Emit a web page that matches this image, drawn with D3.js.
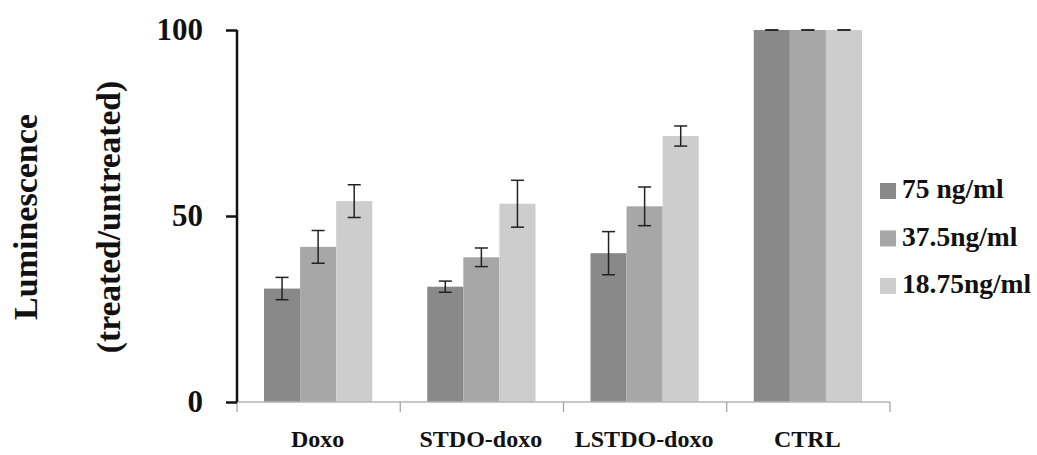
<!DOCTYPE html>
<html>
<head>
<meta charset="utf-8">
<script src="https://cdn.jsdelivr.net/npm/d3@7"></script>
<style>
  body { margin: 0; background: #fff; overflow: hidden; }
  text { font-family: "Liberation Serif", "DejaVu Serif", serif; font-weight: bold; fill: #111; }
</style>
</head>
<body>
<svg id="chart" width="1037" height="455"></svg>
<script>
const categories = ["Doxo", "STDO-doxo", "LSTDO-doxo", "CTRL"]
const seriesNames = ["75 ng/ml", "37.5ng/ml", "18.75ng/ml"]
const seriesColors = ["#898989", "#a7a7a7", "#cdcdcd"]
// values per series, one per category
const values = [
    [30.5, 31, 40, 100],
    [41.7, 38.9, 52.6, 100],
    [54, 53.3, 71.5, 100]
]
const errors = [
    [3, 1.5, 5.8, 0],
    [4.4, 2.5, 5.2, 0],
    [4.4, 6.3, 2.7, 0]
]
const yTicks = [0, 50, 100]

const svg = d3.select("#chart")
const plotLeft = 237, plotRight = 890, plotTop = 30, plotBottom = 402

const x = d3.scaleBand().domain(categories).range([plotLeft, plotRight]).paddingInner(0).paddingOuter(0)
const inner = d3.scaleBand().domain(d3.range(seriesNames.length))
    .range([27, x.bandwidth() - 28]).padding(0)
const y = d3.scaleLinear().domain([0, 100]).range([plotBottom, plotTop])

// bars
const groups = svg.selectAll(".series")
    .data(seriesNames)
    .join("g")
    .attr("class", "series")

groups.each(function(s, si) {
    const rows = categories.map((c, ci) => ({c: c, v: values[si][ci], e: errors[si][ci]}))
    d3.select(this).selectAll("rect")
        .data(rows)
        .join("rect")
        .attr("x", d => x(d.c) + inner(si))
        .attr("y", d => y(d.v))
        .attr("width", inner.bandwidth())
        .attr("height", d => y(0) - y(d.v))
        .attr("fill", seriesColors[si])
})

// x axis (gray line with category ticks)
const xAxis = svg.append("g").attr("transform", `translate(0,${plotBottom})`)
xAxis.append("line").attr("x1", plotLeft).attr("x2", plotRight).attr("y1", 0).attr("y2", 0)
    .attr("stroke", "#b5b5b5").attr("stroke-width", 1.5)
const tickXs = categories.map(c => x(c)).concat([plotRight])
xAxis.selectAll(".xt").data(tickXs).join("line")
    .attr("class", "xt")
    .attr("x1", d => d).attr("x2", d => d).attr("y1", 0).attr("y2", 10)
    .attr("stroke", "#a0a0a0").attr("stroke-width", 1.2)
xAxis.selectAll(".xl").data(categories).join("text")
    .attr("class", "xl")
    .attr("x", d => x(d) + x.bandwidth() / 2 - 1)
    .attr("y", 45)
    .attr("text-anchor", "middle")
    .style("font-size", "24px")
    .text(d => d)

// error bars
groups.each(function(s, si) {
    const rows = categories.map((c, ci) => ({c: c, v: values[si][ci], e: errors[si][ci]}))
    const cx = d => x(d.c) + inner(si) + inner.bandwidth() / 2
    const eb = d3.select(this).selectAll(".eb").data(rows).join("g").attr("class", "eb")
        .attr("stroke", "#222").attr("stroke-width", 1.5)
    eb.filter(d => d.e > 0).append("line")
        .attr("x1", cx).attr("x2", cx)
        .attr("y1", d => y(d.v + d.e)).attr("y2", d => y(d.v - d.e))
    eb.append("line")
        .attr("x1", d => cx(d) - 6.5).attr("x2", d => cx(d) + 6.5)
        .attr("y1", d => y(d.v + d.e)).attr("y2", d => y(d.v + d.e))
    eb.append("line")
        .attr("x1", d => cx(d) - 6.5).attr("x2", d => cx(d) + 6.5)
        .attr("y1", d => y(d.v - d.e)).attr("y2", d => y(d.v - d.e))
})

// y axis
const yAxis = svg.append("g").attr("transform", `translate(${plotLeft},0)`)
    .call(d3.axisLeft(y).tickValues(yTicks).tickSize(11).tickPadding(23))
yAxis.select(".domain").attr("stroke", "#111").attr("stroke-width", 2.5)
    .attr("d", `M0,${plotTop}V${plotBottom}`)
yAxis.selectAll(".tick line").attr("stroke", "#111").attr("stroke-width", 2.5)
yAxis.selectAll(".tick text")
    .style("font-family", "'Liberation Serif', serif")
    .style("font-weight", "bold")
    .style("font-size", "31px")
    .attr("fill", "#111")
    .attr("dy", "0.32em")

// y title
const yTitle = svg.append("g").attr("transform", "translate(0,217) rotate(-90)")
yTitle.append("text").attr("x", 0).attr("y", 37).attr("text-anchor", "middle")
    .style("font-size", "34px").text("Luminescence")
yTitle.append("text").attr("x", 0).attr("y", 120).attr("text-anchor", "middle")
    .style("font-size", "33.5px").text("(treated/untreated)")

// legend
const legend = svg.append("g").attr("transform", "translate(880,183)")
const li = legend.selectAll("g").data(seriesNames).join("g")
    .attr("transform", (d, i) => `translate(0,${i * 47.5})`)
li.append("rect").attr("width", 16).attr("height", 16).attr("fill", (d, i) => seriesColors[i])
li.append("text").attr("x", 22).attr("y", 15).style("font-size", "27.5px").text(d => d)
</script>
</body>
</html>
